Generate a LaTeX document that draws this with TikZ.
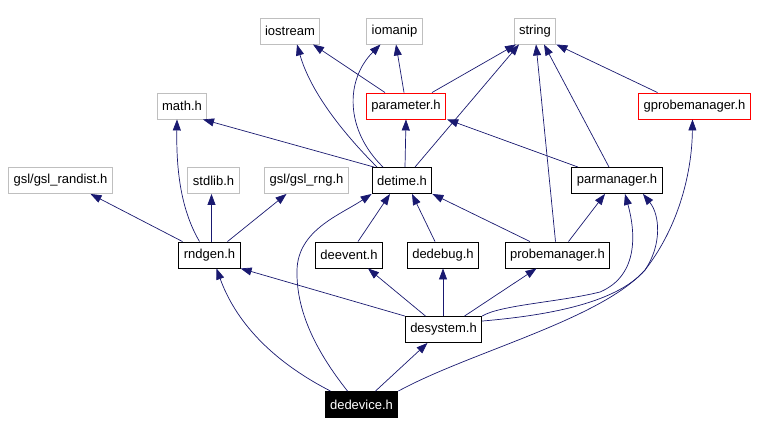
\documentclass[tikz,border=0pt]{standalone}
\usepackage{fontspec}
\setmainfont{Liberation Sans}
\usetikzlibrary{arrows.meta}

\definecolor{edgeblue}{HTML}{191970}

\begin{document}
\begin{tikzpicture}[x=1pt,y=-1pt,
    file/.style={draw=black,line width=0.9pt,inner xsep=5pt,inner ysep=0pt,
        minimum height=26pt,font=\fontsize{13}{15}\selectfont},
    sysfile/.style={file,draw=gray!50},
    redfile/.style={file,draw=red},
    topfile/.style={file,fill=black,text=white},
    inc/.style={draw=edgeblue,line width=0.7pt,
        -{Triangle[length=11pt,width=8pt]}}]

    \useasboundingbox (0,0) rectangle (770,435);

    % system headers
    \node [sysfile] (iostream) at (290,31) {iostream};
    \node [sysfile] (iomanip) at (394.5,31) {iomanip};
    \node [sysfile] (string) at (535,31) {string};
    \node [sysfile] (math) at (182,106) {math.h};
    \node [sysfile] (randist) at (60.5,180.5) {gsl/gsl\_randist.h};
    \node [sysfile] (stdlib) at (213.5,180.5) {stdlib.h};
    \node [sysfile] (rng) at (306.5,180.5) {gsl/gsl\_rng.h};

    % project headers
    \node [redfile] (parameter) at (406,106) {parameter.h};
    \node [redfile] (gprobemanager) at (694.5,106) {gprobemanager.h};
    \node [file] (detime) at (402,180.5) {detime.h};
    \node [file] (parmanager) at (617,180.5) {parmanager.h};
    \node [file] (rndgen) at (209.5,255) {rndgen.h};
    \node [file] (deevent) at (349,255) {deevent.h};
    \node [file] (dedebug) at (443,255) {dedebug.h};
    \node [file] (probemanager) at (557.5,255) {probemanager.h};
    \node [file] (desystem) at (443.5,329.5) {desystem.h};
    \node [topfile] (dedevice) at (361.5,404.5) {dedevice.h};

    % parameter.h
    \draw [inc] ([xshift=-21pt]parameter.north) -- ([xshift=23pt]iostream.south);
    \draw [inc] ([xshift=-2pt]parameter.north) -- ([xshift=1.5pt]iomanip.south);
    \draw [inc] ([xshift=26pt]parameter.north) -- ([xshift=-19pt]string.south);

    % detime.h
    \draw [inc] ([xshift=-25pt]detime.north) .. controls (340,130) and (310,90) .. ([xshift=7pt]iostream.south);
    \draw [inc] ([xshift=-19pt]detime.north) .. controls (345,130) and (345,80) .. ([xshift=-14pt]iomanip.south);
    \draw [inc] ([xshift=13pt]detime.north) -- ([xshift=-16pt]string.south);
    \draw [inc] ([xshift=-28pt]detime.north) -- ([xshift=21pt]math.south);
    \draw [inc] ([xshift=3pt]detime.north) -- (parameter.south);

    % parmanager.h, probemanager.h, gprobemanager.h
    \draw [inc] ([xshift=-8pt]parmanager.north) -- ([xshift=9pt]string.south);
    \draw [inc] ([xshift=-39pt]parmanager.north) -- ([xshift=1pt]parameter.south east);
    \draw [inc] ([xshift=-2pt]probemanager.north) -- ([xshift=1pt]string.south);
    \draw [inc] ([xshift=-37pt]gprobemanager.north) -- (string.south east);

    % rndgen.h
    \draw [inc] ([xshift=-10pt]rndgen.north) .. controls (184,215) and (176,180) .. ([xshift=-5pt]math.south);
    \draw [inc] ([xshift=-27pt]rndgen.north) -- ([xshift=30pt]randist.south);
    \draw [inc] ([xshift=2pt]rndgen.north) -- ([xshift=-2pt]stdlib.south);
    \draw [inc] ([xshift=18pt]rndgen.north) -- ([xshift=-20pt]rng.south);

    % second row to detime.h / parmanager.h
    \draw [inc] ([xshift=9pt]deevent.north) -- ([xshift=-12pt]detime.south);
    \draw [inc] ([xshift=-8pt]dedebug.north) -- ([xshift=10pt]detime.south);
    \draw [inc] ([xshift=-27.5pt]probemanager.north) -- (detime.south east);
    \draw [inc] ([xshift=11pt]probemanager.north) -- ([xshift=-12pt]parmanager.south);

    % desystem.h
    \draw [inc] (desystem.north west) -- (rndgen.south east);
    \draw [inc] ([xshift=-18pt]desystem.north) -- ([xshift=19pt]deevent.south);
    \draw [inc] ([xshift=-0.5pt]desystem.north) -- (dedebug.south);
    \draw [inc] ([xshift=21pt]desystem.north) -- ([xshift=-21pt]probemanager.south);
    \draw [inc] (desystem.north east) .. controls (500,305) and (560,302) .. (600,292)
        .. controls (640,275) and (635,230) .. ([xshift=8pt]parmanager.south);
    \draw [inc] ([yshift=-5pt]desystem.north east) .. controls (540,316) and (615,305) .. (645,270)
        .. controls (680,225) and (692,170) .. ([xshift=-2pt]gprobemanager.south);

    % dedevice.h
    \draw [inc] ([xshift=-31pt]dedevice.north) .. controls (270,360) and (235,320) .. ([xshift=7pt]rndgen.south);
    \draw [inc] ([xshift=-14pt]dedevice.north) .. controls (315,350) and (296,310) .. (297,270)
        .. controls (298,230) and (340,215) .. (detime.south west);
    \draw [inc] ([xshift=14pt]dedevice.north) -- ([xshift=-16pt]desystem.south);
    \draw [inc] (dedevice.north east) .. controls (470,352) and (600,320) .. (645,270)
        .. controls (662,245) and (660,215) .. ([xshift=26pt]parmanager.south);

\end{tikzpicture}
\end{document}
